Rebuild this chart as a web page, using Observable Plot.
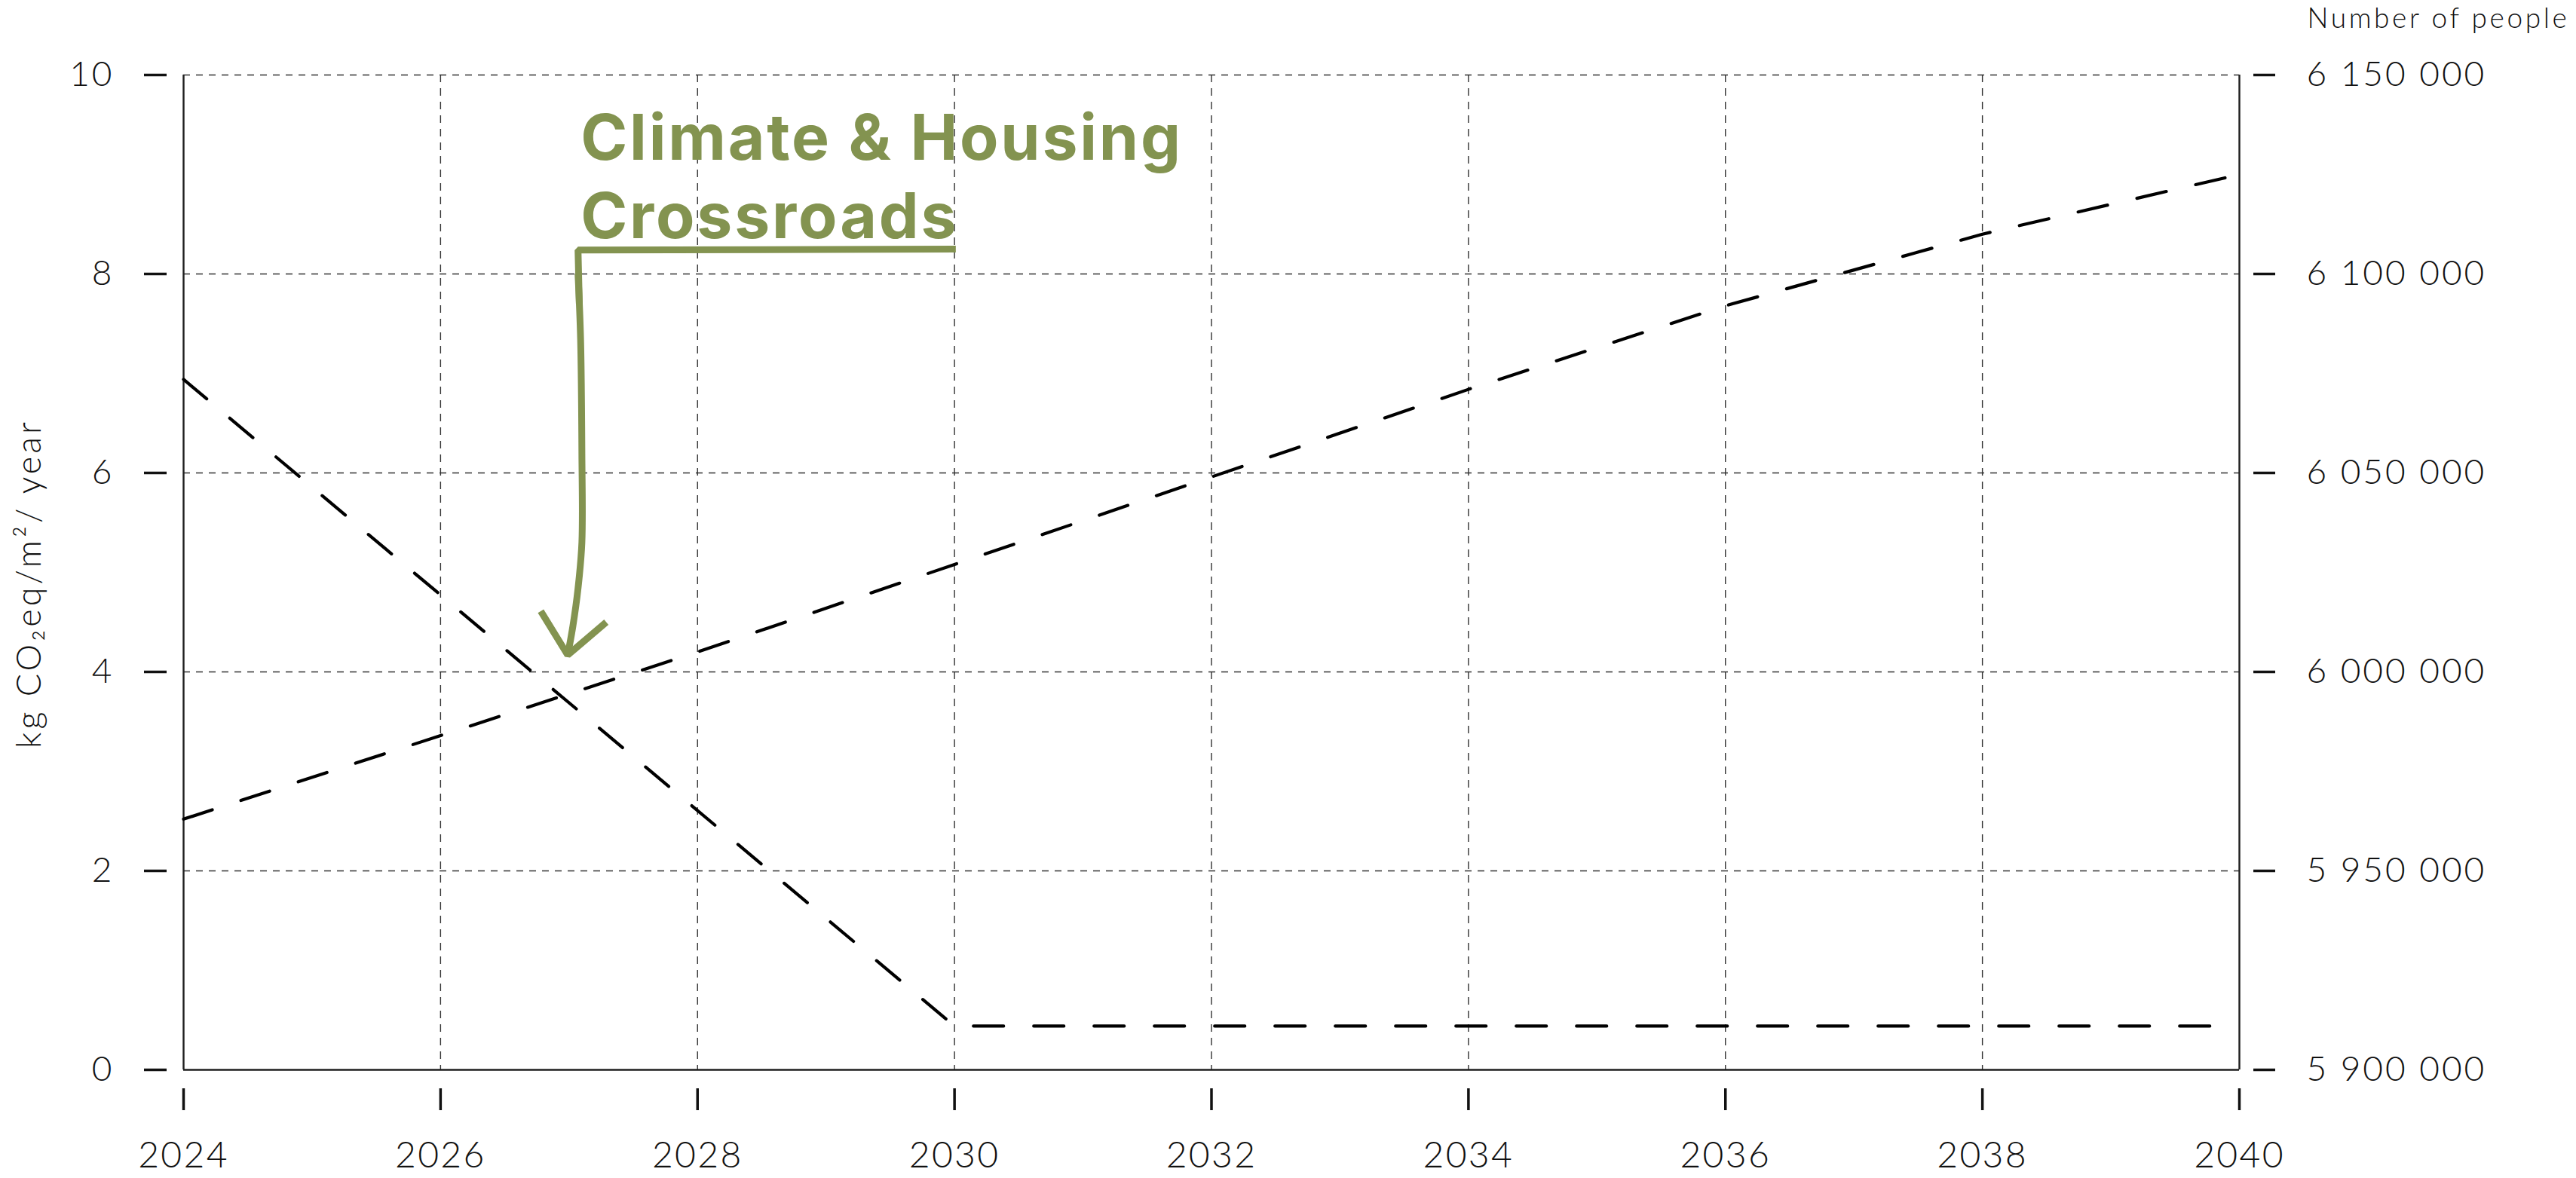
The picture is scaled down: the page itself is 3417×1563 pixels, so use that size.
<!DOCTYPE html>
<html>
<head>
<meta charset="utf-8">
<script src="https://cdn.jsdelivr.net/npm/d3@7"></script>
<script src="https://cdn.jsdelivr.net/npm/@observablehq/plot@0.6"></script>
<style>
html, body { margin: 0; padding: 0; background: #fff; }
#chart svg { display: block; }
#chart g[aria-label="y-axis tick label"] text { letter-spacing: 3px; }
#chart g[aria-label="x-axis tick label"] text { letter-spacing: 2.3px; }
#chart g[font-size="84"] text { letter-spacing: 2.8px; }
#chart g[font-size="37"] text { letter-spacing: 3.6px; }
#chart g[font-size="45"] text { letter-spacing: 4px; }
</style>
</head>
<body>
<div id="chart"></div>
<script>
// ---- data ----
const years = [2024, 2026, 2028, 2030, 2032, 2034, 2036, 2038, 2040];
const population = [5963000, 5984000, 6005000, 6027000, 6049000, 6071000, 6092000, 6110000, 6125000];
const emissionYears = [2024, 2030, 2040];
const emissions = [6.94, 0.44, 0.44];
const xTicks = [2024, 2026, 2028, 2030, 2032, 2034, 2036, 2038, 2040];
const leftTicks = [0, 2, 4, 6, 8, 10];
const rightTicks = [5900000, 5950000, 6000000, 6050000, 6100000, 6150000];
const leftLabel = "kg CO₂eq/m²/ year";
const rightLabel = "Number of people";
const annotationText = ["Climate & Housing", "Crossroads"];
// annotation bracket + arrow, in data units (year, kg)
const bracket = [[2030.01, 8.25], [2027.07, 8.24], [2027.08, 7.70]];
const arrowShaft = [[2027.07, 8.00], [2027.09, 7.34], [2027.10, 6.20], [2027.10, 5.30], [2027.07, 4.84], [2027.03, 4.46], [2026.99, 4.17]];
const arrowHead = [[2026.78, 4.61], [2026.99, 4.17], [2027.29, 4.50]];
const annotationAnchor = [2027.09, 9.70];

// right axis mapped onto the left scale
const popMin = rightTicks[0];
const popMax = rightTicks[rightTicks.length - 1];
const toLeft = p => (p - popMin) / (popMax - popMin) * 10;
const fromLeft = v => popMin + v / 10 * (popMax - popMin);
const fmt = p => d3.format(",")(Math.round(p)).replace(/,/g, " ");

const popData = years.map((y, i) => ({year: y, v: toLeft(population[i])}));
const emData = emissionYears.map((y, i) => ({year: y, v: emissions[i]}));

const green = "#839350";
const ink = "#111";
const font = "Lato, 'Open Sans', sans-serif";

const chart = Plot.plot({
  width: 3417,
  height: 1563,
  marginLeft: 243,
  marginRight: 447,
  marginTop: 99,
  marginBottom: 144,
  x: {domain: [2024, 2040]},
  y: {domain: [0, 10]},
  style: {background: "#fff", fontFamily: font, color: ink, overflow: "visible"},
  marks: [
    // grid
    Plot.ruleX(xTicks.filter(d => d > xTicks[0] && d < xTicks[xTicks.length - 1]), {stroke: "#333", strokeWidth: 1.4, strokeDasharray: "10,8"}),
    Plot.ruleY(leftTicks.filter(d => d > 0), {stroke: "#333", strokeWidth: 1.4, strokeDasharray: "9,8"}),
    // frame
    Plot.ruleX([xTicks[0], xTicks[xTicks.length - 1]], {stroke: "#1e1e1e", strokeWidth: 2.4}),
    Plot.ruleY([0], {stroke: "#1e1e1e", strokeWidth: 2.4}),
    // axes
    Plot.axisY(leftTicks, {anchor: "left", tickSize: 30, tickPadding: 40, dx: -22, fontSize: 46, fontWeight: 300, color: ink, strokeWidth: 3.5, label: null, tickFormat: d => String(d)}),
    Plot.axisY(rightTicks.map(toLeft), {anchor: "right", tickSize: 29, tickPadding: 42, dx: 18, fontSize: 46, fontWeight: 300, color: ink, strokeWidth: 3.5, label: null, tickFormat: d => fmt(fromLeft(d))}),
    Plot.axisX(xTicks, {anchor: "bottom", tickSize: 29, tickPadding: 41, dy: 25, fontSize: 48, fontWeight: 300, color: ink, strokeWidth: 3.5, label: null, tickFormat: d => String(d)}),
    // axis titles
    Plot.text([leftLabel], {frameAnchor: "left", dx: -204, dy: 15, rotate: -90, textAnchor: "middle", lineAnchor: "middle", fontSize: 45, fontWeight: 300, fill: ink}),
    Plot.text([rightLabel], {frameAnchor: "top-right", dx: 90, dy: -74, textAnchor: "start", lineAnchor: "middle", fontSize: 37, fontWeight: 300, fill: ink}),
    // data lines
    Plot.line(emData, {x: "year", y: "v", stroke: "#000", strokeWidth: 4.2, strokeDasharray: "40,40"}),
    Plot.line(popData, {x: "year", y: "v", stroke: "#000", strokeWidth: 4.2, strokeDasharray: "40,40"}),
    // annotation
    Plot.line(bracket, {x: d => d[0], y: d => d[1], stroke: green, strokeWidth: 9, strokeLinejoin: "miter", strokeLinecap: "butt"}),
    Plot.line(arrowShaft, {x: d => d[0], y: d => d[1], curve: "catmull-rom", stroke: green, strokeWidth: 9, strokeLinecap: "butt"}),
    Plot.line(arrowHead, {x: d => d[0], y: d => d[1], stroke: green, strokeWidth: 9, strokeLinejoin: "miter", strokeLinecap: "butt"}),
    Plot.text([annotationText.join("\n")], {x: () => annotationAnchor[0], y: () => annotationAnchor[1], textAnchor: "start", lineAnchor: "top", lineHeight: 1.23, fontSize: 84, fontWeight: 700, fontFamily: "Inter, Lato, sans-serif", fill: green})
  ]
});
document.getElementById("chart").appendChild(chart);
</script>
</body>
</html>
